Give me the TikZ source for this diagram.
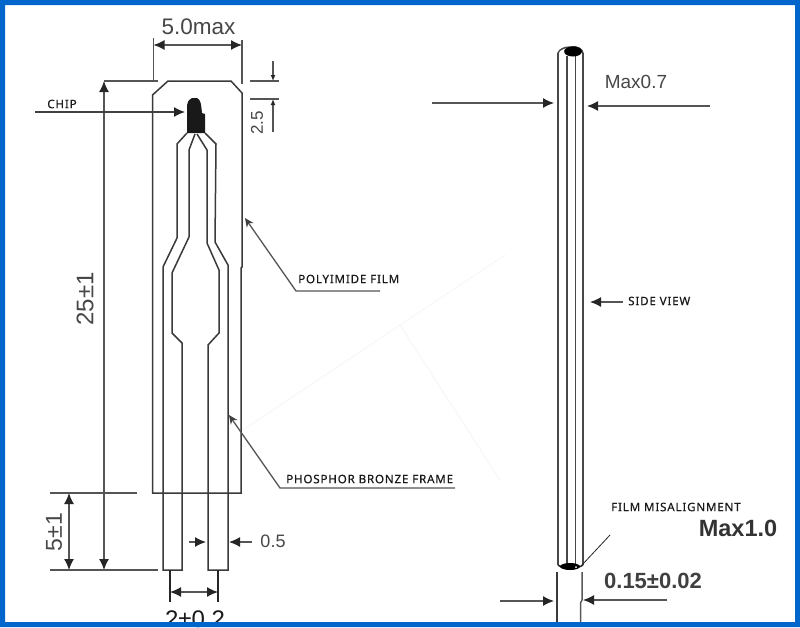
\documentclass[tikz,border=0pt]{standalone}
\usepackage{fontspec}
\setmainfont{Liberation Sans}
\newfontfamily\labelfont[LetterSpace=7,FakeBold=0.35]{Noto Sans}
\usetikzlibrary{arrows.meta}
\definecolor{ink}{HTML}{3A3A3A}
\definecolor{dimink}{HTML}{555555}
\definecolor{frameblue}{HTML}{0066CC}
\tikzset{
  part/.style={draw=ink,line width=1.5pt,line join=miter},
  dimline/.style={draw=dimink,line width=1.3pt},
  tick/.style={draw=dimink,line width=1.3pt},
  arr/.style={dimline,-{Latex[length=11pt,width=10pt,color=black!85]}},
  arrs/.style={dimline,{Latex[length=11pt,width=10pt,color=black!85]}-{Latex[length=11pt,width=10pt,color=black!85]}},
  arrsmall/.style={dimline,-{Latex[length=6pt,width=5pt,color=black!85]}},
  callout/.style={font=\labelfont\fontsize{11.6}{13}\selectfont,text=black!90,inner sep=0pt},
  dimtext/.style={font=\fontsize{22}{24}\selectfont,text=black!72,inner sep=0pt},
  boldtext/.style={font=\bfseries\fontsize{24}{26}\selectfont,text=black!80,inner sep=0pt},
}
\begin{document}
\begin{tikzpicture}[x=1pt,y=-1pt]
\useasboundingbox (0,0) rectangle (800,627);
\fill[white] (0,0) rectangle (800,627);
% faint background traces
\draw[black!3,line width=1pt] (240,432) -- (400,325) -- (505,255);
\draw[black!3,line width=1pt] (400,325) -- (500,480);
% film outline
\draw[part] (152.5,95) -- (168,81) -- (231,81) -- (242,93) -- (242,267) -- (241,268) -- (241,493) -- (152.5,493) -- cycle;
% leads
\draw[part] (187,133) -- (177,144) -- (177,238) -- (163,267) -- (163,570) -- (182,570) -- (182,343) -- (172,333) -- (172,273) -- (189,237) -- (189,150) -- (195,134);
\draw[part] (205,133) -- (216,144) -- (215,242) -- (228,265) -- (228,570) -- (208,570) -- (208,345) -- (219,333) -- (219,270) -- (207,243) -- (207,150) -- (197,134);
% chip
\fill[black!90] (187,133) -- (205,133) -- (205,114) -- (202,113) .. controls (201,104) and (201,100) .. (197,98) -- (192,98) .. controls (189,100) and (187,102) .. (187,105) -- cycle;
% coordinates of dimension ends
\coordinate (wL) at (153.5,38); \coordinate (wLb) at (153.5,82);
\coordinate (wR) at (242,40); \coordinate (wRb) at (242,84);
\coordinate (a5l) at (153.5,45); \coordinate (a5r) at (242,45);
\coordinate (lenT) at (104,81); \coordinate (lenB) at (104,570);
\coordinate (topE) at (158,81);
\coordinate (chipS) at (35,112); \coordinate (chipT) at (185,112);
\draw[tick] (wL) -- (wLb); \draw[tick] (wR) -- (wRb);
\draw[arrs] (a5l) -- (a5r);
\node[dimtext,font=\fontsize{22.5}{24}\selectfont] (n5) at (198.5,27) {5.0max};
\draw[arrs] (lenT) -- (lenB);
\draw[tick] (lenT) -- (topE);
\draw[dimline,draw=black!75,-{Latex[length=11pt,width=10pt,color=black!85]}] (chipS) -- (chipT);
\node[callout] (nchip) at (62,104) {CHIP};
\node[dimtext,rotate=90,font=\fontsize{24}{26}\selectfont] (n25) at (85,299) {25±1};
% 2.5
\coordinate (t1a) at (250,81); \coordinate (t1b) at (279,81);
\coordinate (t2a) at (250,99); \coordinate (t2b) at (279,99);
\coordinate (t3a) at (273,61); \coordinate (t3b) at (273,81);
\coordinate (t4a) at (273,132); \coordinate (t4b) at (273,99);
\draw[tick] (t1a) -- (t1b); \draw[tick] (t2a) -- (t2b);
\draw[arrsmall] (t3a) -- (t3b); \draw[arrsmall] (t4a) -- (t4b);
\node[dimtext,rotate=90,font=\fontsize{17}{19}\selectfont] (n2p5) at (257,123) {2.5};
% 5+-1
\coordinate (h1a) at (50,493); \coordinate (h1b) at (137,493);
\coordinate (h2a) at (50,570); \coordinate (h2b) at (158,570);
\coordinate (v5t) at (69,493); \coordinate (v5b) at (69,570);
\draw[tick] (h1a) -- (h1b); \draw[tick] (h2a) -- (h2b);
\draw[arrs] (v5t) -- (v5b);
\node[dimtext,rotate=90,font=\fontsize{23}{25}\selectfont] (n5p) at (54,532) {5±1};
% 0.5
\coordinate (o1a) at (189,542); \coordinate (o1b) at (206,542);
\coordinate (o2a) at (252,542); \coordinate (o2b) at (229,542);
\draw[arr] (o1a) -- (o1b); \draw[arr] (o2a) -- (o2b);
\node[dimtext,font=\fontsize{18}{20}\selectfont] (n05) at (273,541) {0.5};
% 2+-0.2
\coordinate (e1a) at (170,570); \coordinate (e1b) at (170,602);
\coordinate (e2a) at (218,570); \coordinate (e2b) at (218,602);
\coordinate (a2l) at (170,592); \coordinate (a2r) at (218,592);
\draw[tick,draw=black!85] (e1a) -- (e1b); \draw[tick,draw=black!85] (e2a) -- (e2b);
\draw[arrs] (a2l) -- (a2r);
\node[dimtext,font=\fontsize{24}{26}\selectfont,text=black!90] (n2p) at (195,619) {2±0.2};
% callouts
\coordinate (pf0) at (380,291); \coordinate (pf1) at (296,291); \coordinate (pf2) at (245,218);
\draw[dimline,-{Stealth[length=9pt,width=8pt,color=black!75]}] (pf0) -- (pf1) -- (pf2);
\node[callout,anchor=west] (npf) at (298,279) {POLYIMIDE FILM};
\coordinate (pb0) at (455,488); \coordinate (pb1) at (280,488); \coordinate (pb2) at (229,415);
\draw[dimline,-{Stealth[length=9pt,width=8pt,color=black!75]}] (pb0) -- (pb1) -- (pb2);
\node[callout,anchor=west] (npb) at (286,479) {PHOSPHOR BRONZE FRAME};
% side view
\draw[part,draw=black!72] (558,53) -- (558,565);
\draw[part,draw=black!72] (567,56) -- (567,565);
\draw[part,draw=black!72] (575.5,56) -- (575.5,565);
\draw[part,draw=black!72] (583,53) -- (583,565);
\draw[part,draw=black!72] (558,53) .. controls (560,49) and (564,47) .. (571,47) .. controls (578,46) and (582,49) .. (583,53);
\fill[black] (573,51.5) ellipse[x radius=9,y radius=5];
\fill[white] (562,52) ellipse[x radius=2.5,y radius=1.5];
\draw[part,draw=black!85] (558,565) .. controls (562,569) and (578,569) .. (583,565);
\fill[black] (570,566.5) ellipse[x radius=10,y radius=3.5];
\fill[white] (576,567) circle[radius=1];
% top arrows of side view
\coordinate (m1a) at (432,103); \coordinate (m1b) at (554,103);
\coordinate (m2a) at (710,106); \coordinate (m2b) at (587,106);
\draw[arr] (m1a) -- (m1b); \draw[arr] (m2a) -- (m2b);
\node[dimtext,font=\fontsize{19}{21}\selectfont] (nm07) at (636,82) {Max0.7};
\coordinate (sv0) at (623,302); \coordinate (sv1) at (590,302);
\draw[arr] (sv0) -- (sv1);
\node[callout,anchor=west] (nsv) at (628,301) {SIDE VIEW};
% film misalignment
\node[callout,anchor=west] (nfm) at (611,507) {FILM MISALIGNMENT};
\coordinate (fm0) at (610,535); \coordinate (fm1) at (582,565);
\draw[black!85,line width=0.8pt] (fm0) -- (fm1);
\node[boldtext,font=\bfseries\fontsize{23.5}{26}\selectfont] (nm10) at (738,528) {Max1.0};
% lower leads of side view
\coordinate (b1a) at (557,572); \coordinate (b1b) at (557,622);
\coordinate (b2a) at (582,572); \coordinate (b2b) at (582,600); \coordinate (b2c) at (580.5,603); \coordinate (b2d) at (580.5,622);
\draw[part] (b1a) -- (b1b);
\draw[part,draw=black!65] (b2a) -- (b2b) -- (b2c) -- (b2d);
\coordinate (k1a) at (500,601); \coordinate (k1b) at (554,601);
\coordinate (k2a) at (667,600); \coordinate (k2b) at (583,600);
\draw[arr] (k1a) -- (k1b); \draw[arr] (k2a) -- (k2b);
\node[boldtext,font=\bfseries\fontsize{22}{24}\selectfont,text=black!75] (n015) at (653,581) {0.15±0.02};
% blue frame
\fill[frameblue,even odd rule] (0,0) rectangle (800,627) (5,5) rectangle (795,622);
\end{tikzpicture}
\end{document}
